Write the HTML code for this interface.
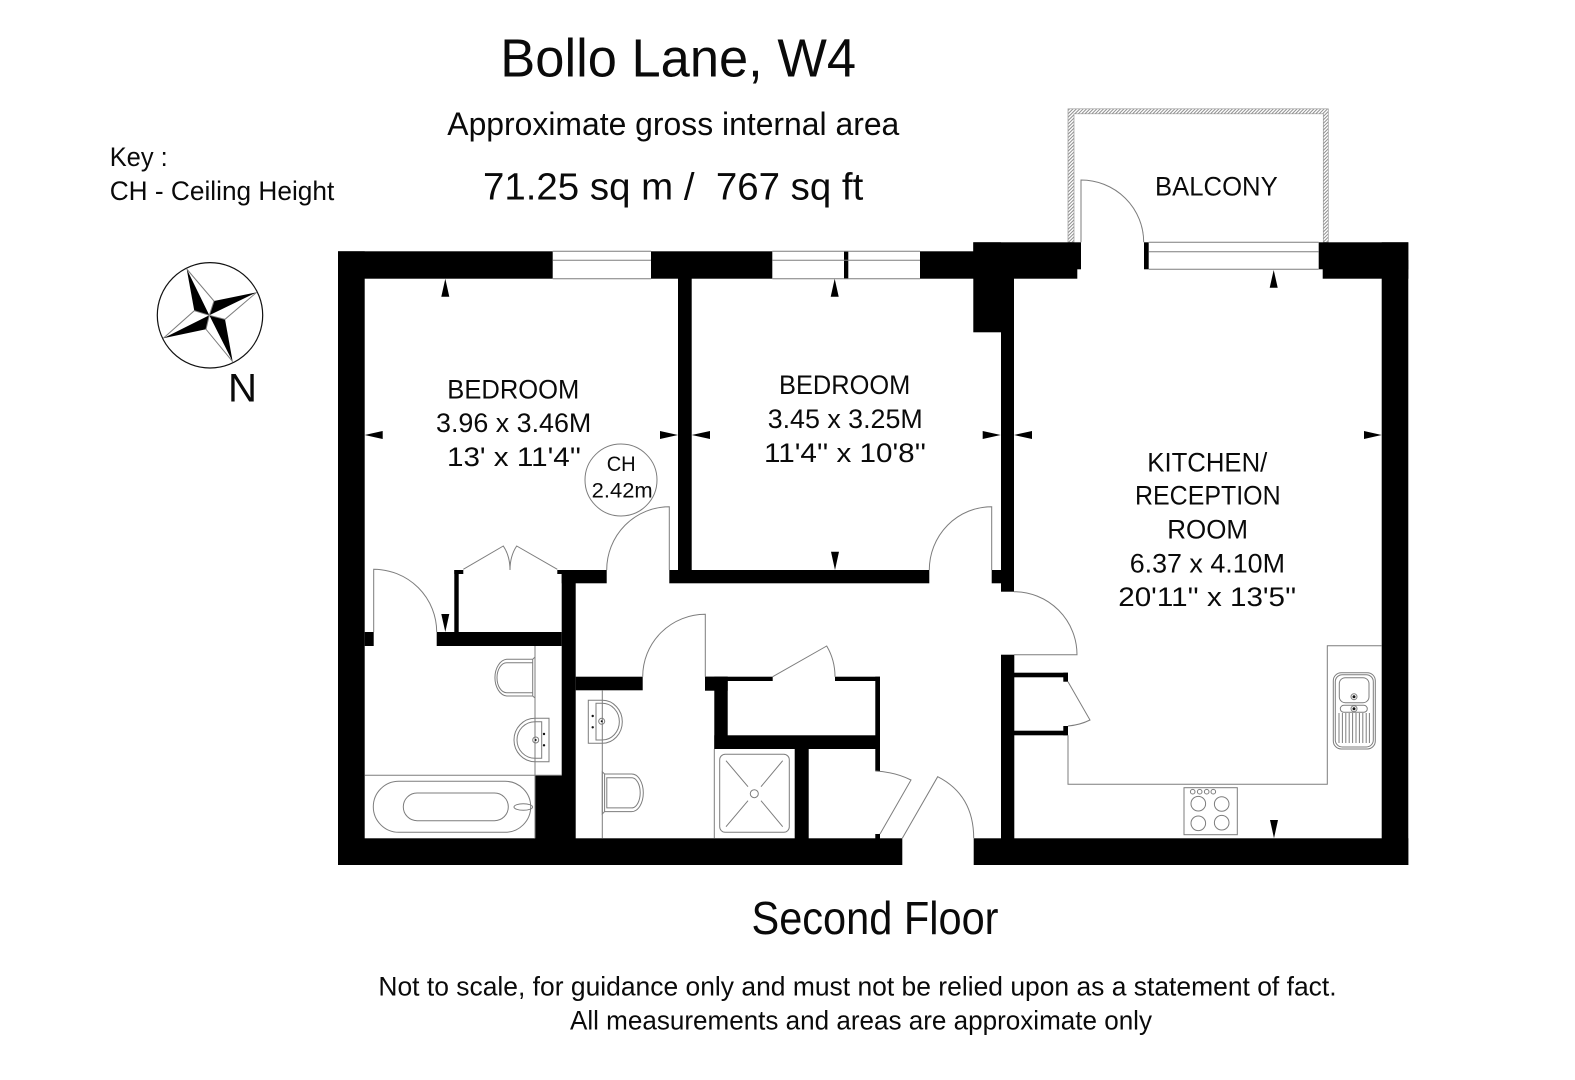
<!DOCTYPE html>
<html lang="en"><head><meta charset="utf-8"><title>Bollo Lane, W4</title>
<style>html,body{margin:0;padding:0;background:#fff}svg{display:block}
text{font-family:"Liberation Sans",sans-serif;fill:#0a0a0a}
.l{fill:none;stroke:#7d7d7d;stroke-width:1}</style></head>
<body>
<svg width="1575" height="1080" viewBox="0 0 1575 1080" xmlns="http://www.w3.org/2000/svg">
<defs><pattern id="h" width="2.4" height="2.4" patternUnits="userSpaceOnUse" patternTransform="rotate(45)"><rect width="2.4" height="2.4" fill="#fff"/><rect width="1" height="2.4" fill="#8f8f8f"/></pattern></defs>
<rect width="1575" height="1080" fill="#fff"/>

<!-- Balcony -->
<path d="M1068 242.3V108.8H1328.3V242.3H1323.3V113.8H1074V242.3Z" fill="url(#h)" stroke="#999" stroke-width=".7"/>

<!-- Walls -->
<g fill="#000">
<rect x="338" y="251.3" width="214.7" height="27.4"/>
<rect x="651" y="251.3" width="121.3" height="27.4"/>
<rect x="920" y="251.3" width="60" height="27.4"/>
<rect x="338" y="251.3" width="26.7" height="613.7"/>
<rect x="678" y="270" width="13.7" height="305"/>
<rect x="669.3" y="570" width="260" height="13.3"/>
<rect x="561.7" y="570" width="45" height="13.3"/>
<rect x="561.7" y="570" width="14" height="270"/>
<rect x="436.7" y="632" width="125" height="14"/>
<rect x="364.7" y="632" width="9" height="14"/>
<rect x="454.3" y="570" width="4.4" height="64"/>
<rect x="454.3" y="570" width="9" height="4"/>
<rect x="557.3" y="570" width="5" height="4"/>
<rect x="535" y="775.3" width="30" height="65"/>
<rect x="575.7" y="676.7" width="67" height="13.6"/>
<rect x="338" y="838.3" width="564.3" height="26.7"/>
<rect x="973.7" y="838.3" width="434.6" height="26.7"/>
<!-- hall cupboards -->
<rect x="705" y="676.7" width="67.7" height="4.3"/>
<rect x="705" y="676.7" width="22.7" height="14"/>
<rect x="714.3" y="676.7" width="13.4" height="72.3"/>
<rect x="835" y="676.7" width="45" height="4.3"/>
<rect x="875.3" y="676.7" width="4.7" height="94.3"/>
<rect x="714.3" y="735.3" width="165" height="13.7"/>
<rect x="794.7" y="740" width="14" height="100"/>
<rect x="875.3" y="834" width="4.7" height="6"/>
<!-- kitchen top -->
<rect x="973.3" y="242.3" width="107.7" height="27"/>
<rect x="973.3" y="260" width="104" height="18.7"/>
<rect x="973.3" y="242.3" width="27.7" height="90"/>
<rect x="1001" y="260" width="13" height="331.7"/>
<rect x="991.7" y="570" width="12" height="13.3"/>
<rect x="1001" y="654.7" width="13.3" height="185"/>
<rect x="1144" y="242.3" width="4.7" height="27"/>
<rect x="1318.7" y="242.3" width="89.6" height="27"/>
<rect x="1322.7" y="260" width="85.6" height="18.7"/>
<rect x="1381.7" y="242.3" width="26.6" height="622.7"/>
<!-- kitchen cupboard -->
<rect x="1014" y="672.7" width="54" height="4.6"/>
<rect x="1063.3" y="672.7" width="4.7" height="9"/>
<rect x="1014" y="730.7" width="54" height="4.6"/>
<rect x="1063.3" y="726" width="4.7" height="9.3"/>
<!-- window mullion -->
<rect x="844" y="251.3" width="4.3" height="27.4"/>
</g>

<!-- Windows -->
<g class="l">
<path d="M552.7 251.3H651M552.7 260.3H651M552.7 278.7H651"/>
<path d="M772.3 251.3H920M772.3 260.3H920M772.3 278.7H920"/>
<path d="M1148.7 242.3H1318.7M1148.7 251.7H1318.7M1148.7 269.3H1318.7"/>
</g>

<!-- Doors -->
<g class="l">
<path d="M669.3 570V506.7A62.7 63.3 0 0 0 606.7 570"/>
<path d="M991.7 570V506.7A62.4 63.3 0 0 0 929.3 570"/>
<path d="M373.7 632V569.3A63 62.7 0 0 1 436.7 632"/>
<path d="M1081 242.3V180A62.7 62.3 0 0 1 1143.7 242.3"/>
<path d="M1014 654.7H1077A63 63 0 0 0 1014 591.7"/>
<path d="M705.3 676.7V614.3A62.6 62.4 0 0 0 642.7 676.7"/>
<path d="M463.3 569.3L503.3 546Q510 556 510 570Q510 556 516.7 546L557.3 569.3"/>
<path d="M772.7 676.7L826.7 646Q835 660 835 676.7"/>
<path d="M875.3 771Q895 772 911 780L880 834"/>
<path d="M902.3 838.3L937.7 776.7Q973.7 795 973.7 838.3"/>
<path d="M1068 681.7L1090 720Q1080 725 1068 726"/>
<!-- kitchen counters -->
<path d="M1068 735.3V784.3H1327.3V645.7H1381.7"/>
<!-- bathroom lines -->
<path d="M535 646V775.3M364.7 775.3H561.7M535 775.3V838.3"/>
<!-- wc line -->
<path d="M602.3 690.3V838.3"/>
<path d="M714.3 749V838.3"/>
</g>

<!-- En-suite fixtures -->
<g class="l">
<path d="M532.7 659.3H506.7A12.7 18.4 0 0 0 506.7 696H532.7"/>
<path d="M532.7 662.7H506.7A9.7 15 0 0 0 506.7 692.7H532.7"/>
<path d="M532.7 659.3L535 657V698L532.7 696V659.3"/>
<path d="M535 718.3H549V761.7H535A21 21.7 0 0 1 535 718.3Z"/>
<path d="M541.7 721.7V758.3H535A18 18.3 0 0 1 535 721.7Z"/>
<circle cx="535.7" cy="740" r="3"/>
<rect x="373.3" y="781.3" width="157.4" height="51" rx="25.5"/>
<rect x="403.3" y="793" width="105" height="27.7" rx="13.8"/>
<ellipse cx="523.3" cy="807" rx="9.3" ry="3.3"/>
</g>
<g fill="#111"><circle cx="535.7" cy="740" r="1"/><circle cx="544" cy="734" r="1.2"/><circle cx="544" cy="745.3" r="1.2"/></g>

<!-- WC fixtures -->
<g class="l">
<path d="M602.3 700.3H588.3V743.3H602.3A20 21.5 0 0 0 602.3 700.3"/>
<path d="M596 703.3V740H602.3A17 18.3 0 0 0 602.3 703.3Z"/>
<circle cx="601.7" cy="721.3" r="3"/>
<path d="M604.6 774H631.7A11.6 18.8 0 0 1 631.7 811.6H604.6"/>
<path d="M606.8 777.7H631.7A8.5 15.1 0 0 1 631.7 807.9H606.8Z"/>
<path d="M604.6 774L602.3 771.8V814L604.6 811.6Z"/>
<!-- shower -->
<rect x="719.7" y="754.3" width="69.6" height="78" rx="5.5"/>
<circle cx="754.3" cy="793.7" r="4"/>
<path d="M726 760.7L748 786.7M782.7 760.7L761 786.7M726 826.7L748 800.7M782.7 826.7L761 800.7"/>
</g>
<g fill="#111"><circle cx="601.7" cy="721.3" r="1"/><circle cx="592.7" cy="716" r="1.2"/><circle cx="592.7" cy="727.3" r="1.2"/></g>

<!-- Kitchen fixtures -->
<g class="l">
<rect x="1333.3" y="672.7" width="42" height="76.3" rx="8"/>
<rect x="1335.3" y="674.7" width="38" height="72.3" rx="7"/>
<rect x="1339.3" y="677.7" width="29.7" height="25" rx="6"/>
<rect x="1340.3" y="705.3" width="27" height="7" rx="3.5"/>
<circle cx="1354" cy="696.7" r="3"/><circle cx="1354" cy="708.7" r="3"/>
<path d="M1339 713V743M1342.4 713V743M1345.8 713V743M1349.2 713V743M1352.6 713V743M1356 713V743M1359.4 713V743M1362.8 713V743M1366.2 713V743M1369.4 713V743"/>
<rect x="1184" y="787.7" width="53.3" height="47"/>
<circle cx="1192.7" cy="791.7" r="2.3"/><circle cx="1199.7" cy="791.7" r="2.3"/><circle cx="1206.7" cy="791.7" r="2.3"/><circle cx="1213.3" cy="791.7" r="2.3"/>
<circle cx="1198.3" cy="803.7" r="7.3"/><circle cx="1221.7" cy="804" r="7.3"/><circle cx="1198.3" cy="823.3" r="7.3"/><circle cx="1221.7" cy="822.7" r="7.3"/>
</g>
<g fill="#111"><circle cx="1354" cy="696.7" r="1.5"/><circle cx="1354" cy="708.7" r="1.5"/></g>

<!-- Measure arrows -->
<g fill="#000">
<path d="M445.3 278.7L441.3 296.7H449.3Z"/>
<path d="M364.7 435L382.7 431V439Z"/>
<path d="M678 435L660 431V439Z"/>
<path d="M445.3 632L441.3 614H449.3Z"/>
<path d="M834.7 278.7L830.7 296.7H838.7Z"/>
<path d="M691.7 435L710 431V439Z"/>
<path d="M1000.7 435L982.7 431V439Z"/>
<path d="M835 570L831 551.7H839Z"/>
<path d="M1014 435L1032 431V439Z"/>
<path d="M1381.7 435L1364 431V439Z"/>
<path d="M1273.7 270L1269.7 287.7H1277.7Z"/>
<path d="M1274 838.3L1270 820H1278Z"/>
</g>

<!-- CH bubble -->
<circle cx="621" cy="480" r="36" fill="none" stroke="#7d7d7d" stroke-width="1"/>

<!-- Compass -->
<circle cx="210" cy="315.3" r="52.7" fill="#fff" stroke="#111" stroke-width="1.2"/>
<g fill="#000">
<path d="M186.7 269L194.3 310.7L209.3 315.3Z"/>
<path d="M256.7 292.3L214 301L209.3 315.3Z"/>
<path d="M232.7 361.7L225 319.3L209.3 315.3Z"/>
<path d="M163.3 338.3L206 329.3L209.3 315.3Z"/>
</g>
<path class="l" d="M186.7 269L214 301L209.3 315.3M256.7 292.3L225 319.3L209.3 315.3M232.7 361.7L206 329.3L209.3 315.3M163.3 338.3L194.3 310.7L209.3 315.3"/>

<!-- Text -->
<text x="500.3" y="76.7" font-size="54" textLength="355.7" lengthAdjust="spacingAndGlyphs">Bollo Lane, W4</text>
<text x="447.3" y="135" font-size="32" textLength="452" lengthAdjust="spacingAndGlyphs">Approximate gross internal area</text>
<text x="483" y="199.6" font-size="38" textLength="380.3" lengthAdjust="spacingAndGlyphs" xml:space="preserve">71.25 sq m /  767 sq ft</text>
<text x="109.7" y="165.8" font-size="27" textLength="58" lengthAdjust="spacingAndGlyphs">Key :</text>
<text x="109.7" y="200" font-size="27" textLength="224.6" lengthAdjust="spacingAndGlyphs">CH - Ceiling Height</text>
<text x="228" y="401.7" font-size="40" textLength="29" lengthAdjust="spacingAndGlyphs">N</text>
<text x="1155" y="195.3" font-size="27" textLength="122.7" lengthAdjust="spacingAndGlyphs">BALCONY</text>

<text x="447.3" y="398.5" font-size="27" textLength="132" lengthAdjust="spacingAndGlyphs">BEDROOM</text>
<text x="436" y="432" font-size="27" textLength="155.3" lengthAdjust="spacingAndGlyphs">3.96 x 3.46M</text>
<text x="447" y="466" font-size="27" textLength="134" lengthAdjust="spacingAndGlyphs">13' x 11'4''</text>
<text x="606.7" y="471" font-size="21" textLength="29" lengthAdjust="spacingAndGlyphs">CH</text>
<text x="591.7" y="497.5" font-size="21" textLength="61" lengthAdjust="spacingAndGlyphs">2.42m</text>

<text x="779" y="394" font-size="27" textLength="131.3" lengthAdjust="spacingAndGlyphs">BEDROOM</text>
<text x="767.7" y="428" font-size="27" textLength="155" lengthAdjust="spacingAndGlyphs">3.45 x 3.25M</text>
<text x="764" y="462" font-size="27" textLength="162" lengthAdjust="spacingAndGlyphs">11'4'' x 10'8''</text>

<text x="1147.3" y="471.7" font-size="27" textLength="120" lengthAdjust="spacingAndGlyphs">KITCHEN/</text>
<text x="1135" y="504.6" font-size="27" textLength="145.6" lengthAdjust="spacingAndGlyphs">RECEPTION</text>
<text x="1167.3" y="538.3" font-size="27" textLength="80.7" lengthAdjust="spacingAndGlyphs">ROOM</text>
<text x="1129.7" y="572.7" font-size="27" textLength="155.3" lengthAdjust="spacingAndGlyphs">6.37 x 4.10M</text>
<text x="1118.3" y="606" font-size="27" textLength="178" lengthAdjust="spacingAndGlyphs">20'11'' x 13'5''</text>

<text x="751.5" y="934" font-size="46" textLength="247" lengthAdjust="spacingAndGlyphs">Second Floor</text>
<text x="378.4" y="995.7" font-size="27" textLength="958.2" lengthAdjust="spacingAndGlyphs">Not to scale, for guidance only and must not be relied upon as a statement of fact.</text>
<text x="570" y="1029.3" font-size="27" textLength="582" lengthAdjust="spacingAndGlyphs">All measurements and areas are approximate only</text>
</svg>
</body></html>
